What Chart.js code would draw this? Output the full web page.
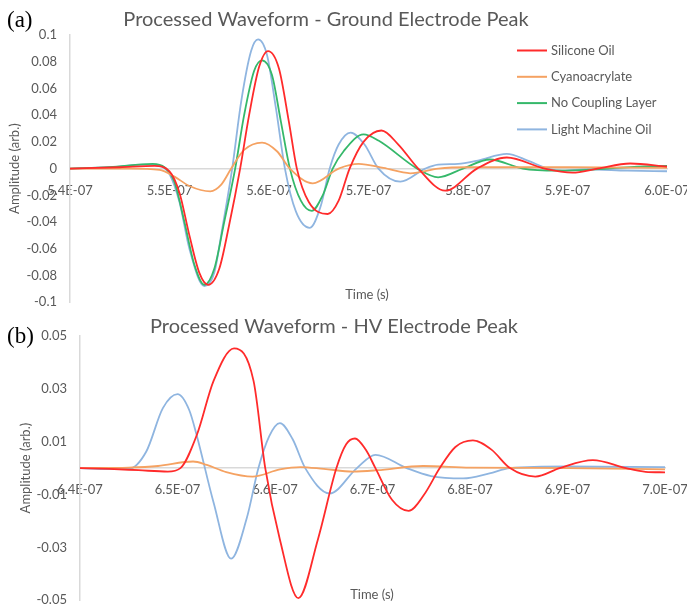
<!DOCTYPE html>
<html>
<head>
<meta charset="utf-8">
<script src="https://cdn.jsdelivr.net/npm/chart.js@4.4.0/dist/chart.umd.min.js"></script>
<style>
  body { margin: 0; background: #fff; width: 687px; height: 608px; position: relative; overflow: hidden; }
  canvas { position: absolute; left: 0; }
  #chartA { top: 0; }
  #chartB { top: 305px; }
</style>
</head>
<body>
<canvas id="chartA" width="687" height="323"></canvas>
<canvas id="chartB" width="687" height="316"></canvas>
<script>
// times are in ns, amplitudes in arb. units
// (a) Ground electrode peak
const siliconeTimeA = [540, 545, 548.5, 550, 551, 552, 553, 553.9, 555, 556, 557.1, 558, 559, 559.9, 561, 562, 562.8, 564, 565.9, 567, 568.1, 569.5, 571.3, 573, 575, 577.7, 580.9, 583.9, 587.7, 590.5, 593, 596.3, 600];
const siliconeAmpA  = [0, 0.001, 0.002, -0.002, -0.018, -0.05, -0.078, -0.087, -0.075, -0.042, 0, 0.04, 0.076, 0.088, 0.075, 0.035, 0, -0.025, -0.034, -0.024, 0, 0.02, 0.0285, 0.018, 0, -0.0165, 0, 0.0083, 0, -0.003, 0, 0.0038, 0.0015];

const cyanoTimeA = [540, 546, 549, 550.5, 552, 554.1, 555.2, 556.2, 557.5, 559.3, 560.8, 562.1, 564.4, 567, 569, 571.5, 574.2, 577, 580, 590, 600];
const cyanoAmpA  = [0, 0, -0.001, -0.006, -0.013, -0.017, -0.012, 0, 0.014, 0.0195, 0.013, 0, -0.011, 0, 0.0035, 0.0005, -0.0035, 0, 0.001, 0.001, 0.0005];

const noLayerTimeA = [540, 544, 548.3, 549.5, 550.5, 551.5, 552.5, 553.5, 554.5, 555.5, 556.6, 557.5, 558.5, 559.3, 560.3, 561.2, 562.1, 563.2, 564.3, 565.4, 566.4, 567.5, 569.5, 571, 574.9, 577, 579.5, 582.2, 585.5, 589, 594, 597, 600];
const noLayerAmpA  = [0, 0.001, 0.0035, 0.001, -0.01, -0.04, -0.072, -0.087, -0.075, -0.04, 0, 0.04, 0.073, 0.081, 0.07, 0.035, 0, -0.024, -0.0316, -0.02, 0, 0.013, 0.0256, 0.021, 0, -0.0065, 0, 0.0068, 0, -0.0015, 0, 0.0015, 0.002];

const machineTimeA = [540, 544, 547.5, 549, 550, 551, 552, 553.5, 554.5, 555.3, 556.3, 557.2, 558.2, 558.9, 559.8, 560.7, 561.6, 562.7, 564.1, 565.2, 566.1, 567, 568.2, 569.6, 571, 573.2, 575.7, 577, 579, 581, 583.9, 586, 588, 589.5, 592, 596, 600];
const machineAmpA  = [0, 0.001, 0.003, 0.002, -0.004, -0.025, -0.06, -0.088, -0.078, -0.045, 0, 0.05, 0.088, 0.0967, 0.085, 0.045, 0, -0.032, -0.0443, -0.028, 0, 0.018, 0.027, 0.018, 0, -0.0098, 0, 0.003, 0.0035, 0.006, 0.011, 0.006, 0, -0.0015, -0.0005, -0.0015, -0.002];

// (b) HV electrode peak
const siliconeTimeB = [640, 643, 646, 649, 650.3, 652, 653.7, 655.8, 657.8, 659, 660.5, 662.4, 664.4, 666.3, 667.3, 668.2, 669.3, 670.3, 672, 673.7, 675.3, 676.9, 678.5, 680.3, 682.2, 684.1, 686.7, 689.2, 692.6, 696, 698, 700];
const siliconeAmpB  = [0, -0.0003, -0.0008, -0.0013, 0, 0.0127, 0.033, 0.0453, 0.033, 0, -0.027, -0.0492, -0.027, 0, 0.009, 0.0112, 0.007, 0, -0.012, -0.0162, -0.01, 0, 0.008, 0.0105, 0.007, 0, -0.0032, 0, 0.003, 0, -0.0014, -0.0016];

const cyanoTimeB = [640, 645, 648, 651.6, 653, 655, 657.7, 660.5, 662.6, 665, 668, 670.5, 675.2, 680, 690, 700];
const cyanoAmpB  = [0, 0.0002, 0.0008, 0.0025, 0.0012, -0.0015, -0.0032, -0.0005, 0.0004, -0.0003, -0.0013, -0.0008, 0.0008, 0.0002, 0, -0.0005];

const machineTimeB = [640, 643, 645, 646.8, 648.5, 650, 651.2, 652, 653.7, 655.5, 657.1, 658.3, 659.4, 660.5, 661.8, 663.1, 665.6, 668.4, 670.3, 673.5, 676, 679.3, 682, 684.1, 690, 700];
const machineAmpB  = [0, -0.0004, -0.0003, 0.0063, 0.0227, 0.028, 0.022, 0.012, -0.013, -0.0343, -0.019, 0, 0.012, 0.017, 0.011, 0, -0.0096, 0, 0.005, 0, -0.003, -0.0039, -0.002, 0, 0.0006, 0.0004];

const seriesNames = ['Silicone Oil', 'Cyanoacrylate', 'No Coupling Layer', 'Light Machine Oil'];
const seriesColors = ['#ff2b2b', '#f5a262', '#35b86a', '#8fb5e0'];
const gray = '#595959';

function pts(ts, ys) {
    return ts.map((t, i) => ({ x: t, y: ys[i] }));
}

function line(idx, ts, ys) {
    return {
        label: seriesNames[idx],
        data: pts(ts, ys),
        borderColor: seriesColors[idx],
        borderWidth: 1.8,
        pointRadius: 0,
        fill: false,
        cubicInterpolationMode: 'monotone'
    };
}

function fmtTime(v) {
    return (v * 1e-9).toExponential(1).replace('e-', 'E-0');
}

function fmtAmp(v) {
    return String(parseFloat(v.toFixed(2)));
}

// titles, panel letter, x title and legend drawn on top
function panelText(o) {
    return {
        id: 'panelText',
        afterDraw(chart) {
            const ctx = chart.ctx;
            ctx.save();
            ctx.fillStyle = '#000';
            ctx.font = '23px "Liberation Serif"';
            ctx.textAlign = 'left';
            ctx.textBaseline = 'middle';
            ctx.fillText(o.letter, o.letterX, o.letterY);

            ctx.fillStyle = gray;
            ctx.font = '20px Lato';
            ctx.textAlign = 'center';
            ctx.fillText(o.title, o.titleX, o.titleY);

            ctx.font = '13px Lato';
            ctx.fillText('Time (s)', o.timeX, o.timeY);

            if (o.legend) {
                ctx.textAlign = 'left';
                chart.data.datasets.forEach((ds, i) => {
                    const y = o.legendY + i * 26.3;
                    ctx.strokeStyle = ds.borderColor;
                    ctx.lineWidth = 2;
                    ctx.beginPath();
                    ctx.moveTo(o.legendX, y);
                    ctx.lineTo(o.legendX + 30, y);
                    ctx.stroke();
                    ctx.fillStyle = gray;
                    ctx.fillText(ds.label, o.legendX + 34, y);
                });
            }
            ctx.restore();
        }
    };
}

function makeOptions(xMin, xMax, yMin, yMax, yStep, axisW, titlePad, pad) {
    return {
        responsive: false,
        animation: false,
        devicePixelRatio: 1,
        layout: { padding: pad },
        plugins: { legend: { display: false }, tooltip: { enabled: false } },
        scales: {
            x: {
                type: 'linear',
                min: xMin,
                max: xMax,
                position: { y: 0 },
                grid: { display: false, drawTicks: false },
                border: { color: '#d9d9d9', width: 1.5 },
                ticks: {
                    stepSize: 10,
                    maxRotation: 0,
                    padding: 14,
                    color: gray,
                    font: { family: 'Lato', size: 13 },
                    callback: fmtTime
                },
                // the axis sits on y = 0, so it takes no room at the bottom
                afterFit(s) { s.height = 0; s.paddingRight = 0; }
            },
            y: {
                min: yMin,
                max: yMax,
                grid: { display: false, drawTicks: false },
                border: { color: '#d9d9d9', width: 1.5 },
                ticks: {
                    stepSize: yStep,
                    padding: 13,
                    color: gray,
                    font: { family: 'Lato', size: 13 },
                    callback: fmtAmp
                },
                title: {
                    display: true,
                    text: 'Amplitude (arb.)',
                    color: gray,
                    font: { family: 'Lato', size: 13 },
                    padding: { top: titlePad, bottom: 0 }
                },
                afterFit(s) { s.width = axisW; }
            }
        }
    };
}

new Chart(document.getElementById('chartA'), {
    type: 'line',
    data: {
        datasets: [
            line(0, siliconeTimeA, siliconeAmpA),
            line(1, cyanoTimeA, cyanoAmpA),
            line(2, noLayerTimeA, noLayerAmpA),
            line(3, machineTimeA, machineAmpA)
        ]
    },
    options: makeOptions(540, 600, -0.1, 0.1, 0.02, 70, 7, { top: 35, right: 20, bottom: 9, left: 0 }),
    plugins: [panelText({
        letter: '(a)', letterX: 7, letterY: 21,
        title: 'Processed Waveform - Ground Electrode Peak', titleX: 326, titleY: 20,
        timeX: 367, timeY: 295,
        legend: true, legendX: 517, legendY: 50.5
    })]
});

new Chart(document.getElementById('chartB'), {
    type: 'line',
    data: {
        datasets: [
            line(0, siliconeTimeB, siliconeAmpB),
            line(1, cyanoTimeB, cyanoAmpB),
            line(3, machineTimeB, machineAmpB)
        ]
    },
    options: makeOptions(640, 700, -0.05, 0.05, 0.02, 80, 18, { top: 31, right: 22, bottom: 10, left: 0 }),
    plugins: [panelText({
        letter: '(b)', letterX: 7, letterY: 32,
        title: 'Processed Waveform - HV Electrode Peak', titleX: 334, titleY: 22,
        timeX: 372, timeY: 290,
        legend: false
    })]
});
</script>
</body>
</html>
